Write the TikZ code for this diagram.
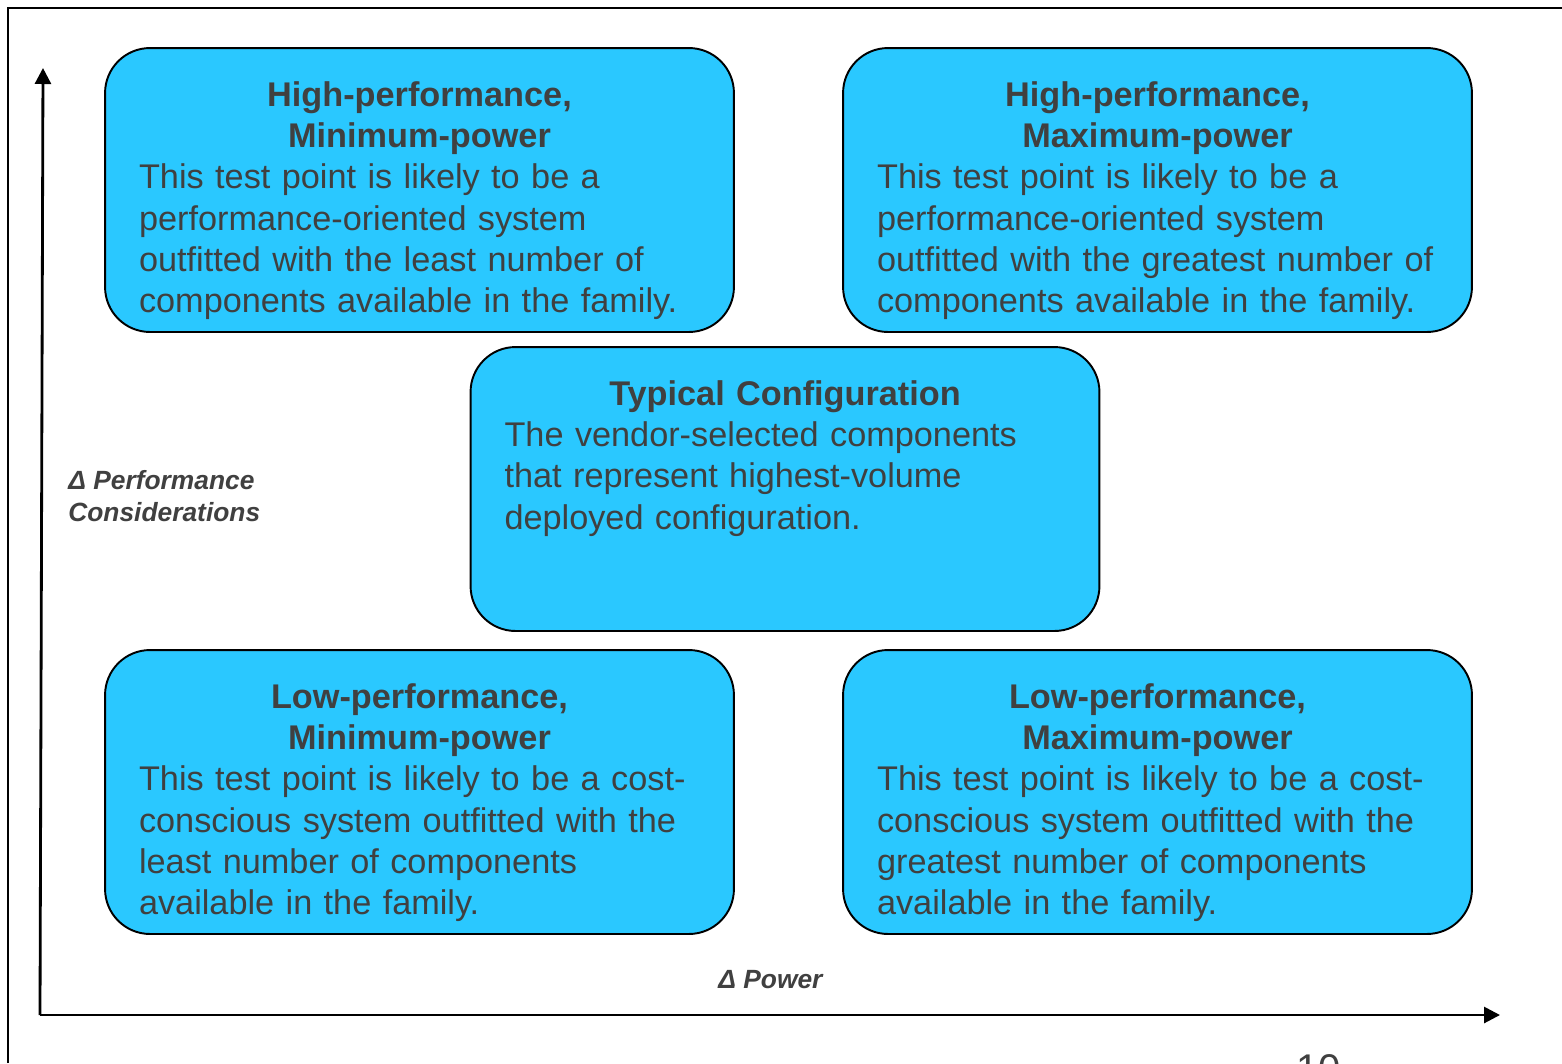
\documentclass[tikz,border=0pt]{standalone}
\usepackage{fontspec}
\setmainfont{Liberation Sans}
\usetikzlibrary{positioning,arrows.meta}

\definecolor{panelblue}{HTML}{2AC8FF}
\definecolor{inkgrey}{HTML}{404040}

\tikzset{
  panel/.style={draw, line width=1.1pt, fill=panelblue, rounded corners=0.9cm,
    minimum width=12.58cm, minimum height=5.68cm, inner sep=0pt},
  note/.style={text=inkgrey, text width=11.22cm, align=left, inner sep=0pt,
    font=\fontsize{19.5}{23.5}\selectfont},
  axislabel/.style={text=inkgrey, align=left, inner sep=0pt,
    font=\fontsize{15}{18.2}\selectfont\bfseries\itshape},
}

\begin{document}
\begin{tikzpicture}[x=0.02cm, y=-0.02cm, >={Triangle[width=0.32cm, length=0.32cm]}]
    \useasboundingbox (0,0) rectangle (1562,1063);

    % Frame
    \draw[line width=1.6pt] (8,1063) -- (8,8) -- (1562,8);

    % Axes
    \coordinate (origin) at (40,1015);
    \coordinate (ytip) at (43,68);
    \coordinate (xtip) at (1500,1015);
    \draw[->, line width=1.6pt] (origin) -- (ytip);
    \draw[->, line width=1.6pt] (origin) -- (xtip);
    \node (perf) [axislabel, anchor=north west] at (68,470) {Δ Performance\\Considerations};
    \node (power) [axislabel, anchor=north west] at (718,970) {Δ Power};

    % Panels
    \node (tl) [panel] at (419.5,190) {};
    \node (tr) [panel] at (1157.5,190) {};
    \node (mid) [panel] at (785,489) {};
    \node (bl) [panel] at (419.5,792) {};
    \node (br) [panel] at (1157.5,792) {};

    % Panel texts
    \node (tl text) [note, below=0.68cm of tl.north] {{\centering\bfseries High-performance,\\Minimum-power\par}
      This test point is likely to be a\\performance-oriented system\\outfitted with the least number of\\components available in the family.};
    \node (tr text) [note, below=0.68cm of tr.north] {{\centering\bfseries High-performance,\\Maximum-power\par}
      This test point is likely to be a\\performance-oriented system\\outfitted with the greatest number of\\components available in the family.};
    \node (mid text) [note, below=0.68cm of mid.north] {{\centering\bfseries Typical Configuration\par}
      The vendor-selected components\\that represent highest-volume\\deployed configuration.};
    \node (bl text) [note, below=0.68cm of bl.north] {{\centering\bfseries Low-performance,\\Minimum-power\par}
      This test point is likely to be a cost-\\conscious system outfitted with the\\least number of components\\available in the family.};
    \node (br text) [note, below=0.68cm of br.north] {{\centering\bfseries Low-performance,\\Maximum-power\par}
      This test point is likely to be a cost-\\conscious system outfitted with the\\greatest number of components\\available in the family.};

    % Page number, cut by the page edge
    \node (pageno) [text=inkgrey, inner sep=0pt, anchor=north west, font=\fontsize{22.8}{27}\selectfont] at (1296,1054) {10};
\end{tikzpicture}
\end{document}
